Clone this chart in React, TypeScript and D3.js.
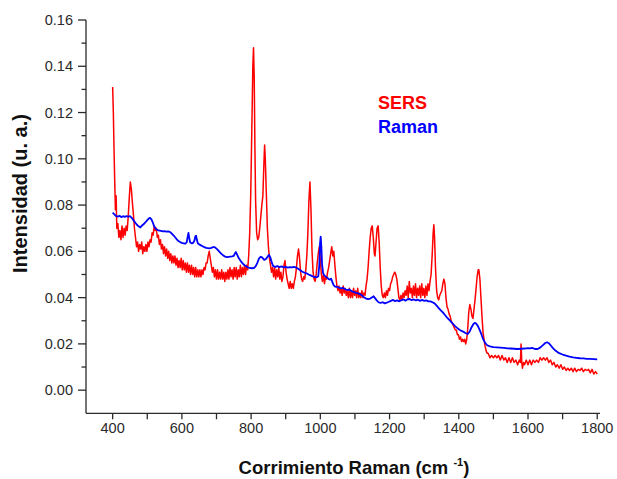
import * as d3 from "d3"

// SERS spectrum (red), [Raman shift cm-1, intensity]
const sers: [number, number][] = [
  [400, 0.131], [402, 0.120], [404, 0.104], [406, 0.090], [408, 0.078], [410, 0.084], [412, 0.070],
  [415, 0.072], [418, 0.066], [421, 0.069], [424, 0.065], [427, 0.071], [430, 0.066], [433, 0.070],
  [436, 0.067], [439, 0.071], [442, 0.069], [445, 0.075], [448, 0.083], [451, 0.090], [454, 0.087],
  [457, 0.081], [460, 0.076], [463, 0.070], [466, 0.066], [469, 0.062], [472, 0.064], [475, 0.060],
  [478, 0.063], [481, 0.061], [484, 0.064], [487, 0.059], [490, 0.062], [493, 0.060], [496, 0.063],
  [499, 0.060], [502, 0.064], [505, 0.062], [508, 0.065], [511, 0.064], [514, 0.068], [517, 0.067],
  [520, 0.071], [523, 0.069], [526, 0.070], [529, 0.066], [532, 0.067], [535, 0.063], [538, 0.065],
  [541, 0.061], [544, 0.063], [547, 0.059], [550, 0.062], [553, 0.058], [556, 0.061], [559, 0.057],
  [562, 0.060], [565, 0.056], [568, 0.059], [571, 0.055], [574, 0.058], [577, 0.055], [580, 0.058],
  [583, 0.054], [586, 0.057], [589, 0.053], [592, 0.056], [595, 0.053], [598, 0.057], [601, 0.052],
  [604, 0.056], [607, 0.052], [610, 0.055], [613, 0.051], [616, 0.055], [619, 0.051], [622, 0.054],
  [625, 0.050], [628, 0.054], [631, 0.050], [634, 0.053], [637, 0.049], [640, 0.053], [643, 0.049],
  [646, 0.052], [649, 0.049], [652, 0.052], [655, 0.049], [658, 0.052], [661, 0.050], [664, 0.053],
  [667, 0.052], [670, 0.055], [673, 0.055], [676, 0.058], [679, 0.060], [682, 0.057], [685, 0.054],
  [688, 0.051], [691, 0.053], [694, 0.049], [697, 0.052], [700, 0.048], [703, 0.052], [706, 0.048],
  [709, 0.051], [712, 0.048], [715, 0.052], [718, 0.048], [721, 0.051], [724, 0.047], [727, 0.051],
  [730, 0.048], [733, 0.052], [736, 0.048], [739, 0.053], [742, 0.049], [745, 0.052], [748, 0.048],
  [751, 0.053], [754, 0.049], [757, 0.053], [760, 0.048], [763, 0.052], [766, 0.049], [769, 0.054],
  [772, 0.049], [775, 0.053], [778, 0.050], [781, 0.054], [784, 0.050], [787, 0.054], [790, 0.052],
  [793, 0.058], [796, 0.068], [799, 0.085], [802, 0.112], [805, 0.140], [807, 0.148], [809, 0.135],
  [811, 0.105], [813, 0.082], [816, 0.068], [819, 0.065], [822, 0.066], [825, 0.070], [828, 0.075],
  [831, 0.080], [834, 0.084], [837, 0.098], [839, 0.106], [841, 0.100], [844, 0.085], [847, 0.070],
  [850, 0.062], [853, 0.057], [856, 0.054], [859, 0.051], [862, 0.053], [865, 0.049], [868, 0.053],
  [871, 0.048], [874, 0.052], [877, 0.049], [880, 0.053], [883, 0.048], [886, 0.051], [889, 0.047],
  [892, 0.049], [895, 0.054], [898, 0.056], [901, 0.051], [904, 0.048], [907, 0.046], [910, 0.044],
  [913, 0.047], [916, 0.044], [919, 0.046], [922, 0.044], [925, 0.047], [928, 0.049], [931, 0.053],
  [934, 0.058], [937, 0.061], [940, 0.057], [943, 0.051], [946, 0.048], [949, 0.047], [952, 0.049],
  [955, 0.048], [958, 0.052], [961, 0.058], [964, 0.068], [967, 0.082], [970, 0.090], [973, 0.078],
  [976, 0.060], [979, 0.051], [982, 0.048], [985, 0.047], [988, 0.050], [991, 0.055], [994, 0.059],
  [997, 0.062], [1000, 0.056], [1003, 0.050], [1006, 0.047], [1009, 0.050], [1012, 0.046], [1015, 0.049],
  [1018, 0.048], [1021, 0.051], [1024, 0.053], [1027, 0.056], [1030, 0.059], [1033, 0.062], [1036, 0.058],
  [1039, 0.060], [1042, 0.054], [1045, 0.049], [1048, 0.045], [1051, 0.043], [1054, 0.045], [1057, 0.042],
  [1060, 0.044], [1063, 0.041], [1066, 0.045], [1069, 0.042], [1072, 0.044], [1075, 0.041], [1078, 0.043],
  [1081, 0.040], [1084, 0.044], [1087, 0.040], [1090, 0.043], [1093, 0.040], [1096, 0.044], [1099, 0.041],
  [1102, 0.043], [1105, 0.040], [1108, 0.044], [1111, 0.040], [1114, 0.042], [1117, 0.040], [1120, 0.043],
  [1123, 0.040], [1126, 0.042], [1129, 0.041], [1132, 0.045], [1135, 0.048], [1138, 0.053], [1141, 0.060],
  [1144, 0.066], [1147, 0.070], [1150, 0.071], [1153, 0.066], [1156, 0.059], [1158, 0.058], [1161, 0.064],
  [1164, 0.070], [1167, 0.071], [1170, 0.064], [1173, 0.053], [1176, 0.045], [1179, 0.041], [1182, 0.040],
  [1185, 0.042], [1188, 0.040], [1191, 0.043], [1194, 0.041], [1197, 0.044], [1200, 0.043], [1203, 0.046],
  [1206, 0.047], [1209, 0.049], [1212, 0.050], [1215, 0.051], [1218, 0.050], [1221, 0.048], [1224, 0.044],
  [1227, 0.040], [1230, 0.039], [1233, 0.041], [1236, 0.039], [1239, 0.042], [1242, 0.040], [1245, 0.043],
  [1248, 0.041], [1251, 0.045], [1254, 0.040], [1257, 0.047], [1260, 0.042], [1263, 0.044], [1266, 0.040],
  [1269, 0.045], [1272, 0.041], [1275, 0.046], [1278, 0.040], [1281, 0.044], [1284, 0.041], [1287, 0.045],
  [1290, 0.040], [1293, 0.046], [1296, 0.041], [1299, 0.044], [1302, 0.040], [1305, 0.045], [1308, 0.041],
  [1311, 0.046], [1314, 0.043], [1317, 0.047], [1320, 0.050], [1323, 0.058], [1326, 0.068], [1328, 0.0715],
  [1330, 0.066], [1333, 0.052], [1336, 0.043], [1339, 0.040], [1342, 0.039], [1345, 0.041], [1348, 0.042],
  [1351, 0.043], [1354, 0.046], [1357, 0.048], [1360, 0.046], [1363, 0.040], [1366, 0.036], [1369, 0.035],
  [1372, 0.033], [1375, 0.032], [1378, 0.030], [1381, 0.029], [1384, 0.028], [1387, 0.027], [1390, 0.026],
  [1393, 0.026], [1396, 0.024], [1399, 0.024], [1402, 0.022], [1405, 0.023], [1408, 0.021], [1411, 0.022],
  [1414, 0.021], [1417, 0.022], [1420, 0.020], [1423, 0.022], [1426, 0.027], [1429, 0.034], [1432, 0.037],
  [1435, 0.035], [1438, 0.032], [1441, 0.031], [1444, 0.035], [1447, 0.039], [1450, 0.044], [1453, 0.049],
  [1456, 0.052], [1458, 0.052], [1461, 0.048], [1464, 0.040], [1467, 0.032], [1470, 0.025], [1473, 0.022],
  [1476, 0.019], [1479, 0.017], [1482, 0.016], [1485, 0.016], [1490, 0.014], [1495, 0.015], [1500, 0.014],
  [1505, 0.015], [1510, 0.014], [1515, 0.015], [1520, 0.013], [1525, 0.015], [1530, 0.013], [1535, 0.014],
  [1540, 0.012], [1545, 0.014], [1550, 0.012], [1555, 0.014], [1560, 0.012], [1565, 0.013], [1570, 0.011],
  [1575, 0.013], [1578, 0.012], [1580, 0.020], [1582, 0.012], [1584, 0.0095], [1587, 0.012], [1590, 0.011],
  [1595, 0.013], [1600, 0.011], [1605, 0.013], [1610, 0.011], [1615, 0.013], [1620, 0.012], [1625, 0.013],
  [1630, 0.012], [1635, 0.014], [1640, 0.013], [1645, 0.014], [1650, 0.013], [1655, 0.014], [1660, 0.012],
  [1665, 0.013], [1670, 0.011], [1675, 0.012], [1680, 0.010], [1685, 0.011], [1690, 0.0095], [1695, 0.011],
  [1700, 0.009], [1705, 0.010], [1710, 0.0085], [1715, 0.0095], [1720, 0.0085], [1725, 0.0095], [1730, 0.008],
  [1735, 0.0095], [1740, 0.008], [1745, 0.009], [1750, 0.0085], [1755, 0.0095], [1760, 0.008], [1765, 0.009],
  [1770, 0.0085], [1775, 0.009], [1780, 0.0075], [1785, 0.009], [1790, 0.007], [1795, 0.008], [1800, 0.007],
]

// normal Raman spectrum (blue)
const raman: [number, number][] = [
  [400, 0.0767], [405, 0.0760], [410, 0.0752], [415, 0.0750], [420, 0.0754], [425, 0.0748], [430, 0.0752],
  [435, 0.0749], [440, 0.0752], [445, 0.0750], [450, 0.0752], [455, 0.0745], [460, 0.0735], [465, 0.0725],
  [470, 0.0715], [475, 0.0708], [480, 0.0703], [485, 0.0712], [490, 0.0718], [495, 0.0726], [500, 0.0735],
  [505, 0.0743], [508, 0.0745], [512, 0.0738], [516, 0.0725], [520, 0.0708], [525, 0.0697], [530, 0.0692],
  [535, 0.0690], [540, 0.0688], [545, 0.0686], [550, 0.0687], [555, 0.0685], [560, 0.0686], [565, 0.0684],
  [570, 0.0678], [575, 0.0670], [580, 0.0662], [585, 0.0652], [590, 0.0645], [595, 0.0640], [600, 0.0637],
  [605, 0.0635], [610, 0.0633], [614, 0.0640], [617, 0.0665], [619, 0.0680], [621, 0.0660], [624, 0.0638],
  [628, 0.0635], [632, 0.0636], [636, 0.0645], [639, 0.0665], [641, 0.0668], [643, 0.0652], [646, 0.0635],
  [650, 0.0630], [655, 0.0626], [660, 0.0622], [665, 0.0618], [670, 0.0615], [675, 0.0614], [680, 0.0613],
  [685, 0.0615], [690, 0.0618], [695, 0.0618], [700, 0.0612], [705, 0.0604], [710, 0.0596], [715, 0.0588],
  [720, 0.0582], [725, 0.0577], [730, 0.0575], [735, 0.0576], [740, 0.0577], [745, 0.0578], [750, 0.0580],
  [753, 0.0590], [756, 0.0597], [759, 0.0588], [763, 0.0574], [768, 0.0563], [773, 0.0552], [778, 0.0544],
  [783, 0.0538], [788, 0.0533], [793, 0.0530], [798, 0.0528], [803, 0.0527], [808, 0.0528], [813, 0.0535],
  [818, 0.0550], [823, 0.0570], [828, 0.0577], [833, 0.0572], [838, 0.0563], [843, 0.0567], [848, 0.0578],
  [852, 0.0585], [856, 0.0572], [860, 0.0550], [864, 0.0536], [870, 0.0533], [876, 0.0536], [882, 0.0532],
  [888, 0.0535], [894, 0.0531], [900, 0.0533], [906, 0.0530], [912, 0.0532], [918, 0.0531], [924, 0.0533],
  [930, 0.0530], [936, 0.0525], [942, 0.0518], [948, 0.0512], [954, 0.0508], [960, 0.0505], [966, 0.0500],
  [972, 0.0496], [978, 0.0492], [984, 0.0489], [990, 0.0488], [994, 0.0492], [997, 0.0540], [999, 0.0630],
  [1001, 0.0664], [1003, 0.0620], [1005, 0.0545], [1008, 0.0505], [1012, 0.0495], [1016, 0.0490], [1020, 0.0486],
  [1024, 0.0480], [1028, 0.0478], [1031, 0.0482], [1034, 0.0470], [1038, 0.0455], [1042, 0.0448], [1048, 0.0447],
  [1054, 0.0443], [1060, 0.0440], [1066, 0.0442], [1072, 0.0436], [1078, 0.0433], [1084, 0.0435], [1090, 0.0428],
  [1096, 0.0425], [1102, 0.0421], [1108, 0.0419], [1114, 0.0415], [1120, 0.0410], [1126, 0.0402], [1132, 0.0396],
  [1138, 0.0394], [1144, 0.0396], [1150, 0.0402], [1154, 0.0406], [1158, 0.0398], [1163, 0.0388], [1168, 0.0380],
  [1174, 0.0377], [1180, 0.0380], [1186, 0.0375], [1192, 0.0378], [1198, 0.0382], [1204, 0.0386], [1210, 0.0390],
  [1216, 0.0385], [1222, 0.0388], [1228, 0.0384], [1234, 0.0389], [1240, 0.0392], [1246, 0.0387], [1252, 0.0393],
  [1258, 0.0394], [1264, 0.0389], [1270, 0.0392], [1276, 0.0388], [1282, 0.0391], [1288, 0.0386], [1294, 0.0390],
  [1300, 0.0386], [1306, 0.0388], [1312, 0.0384], [1318, 0.0384], [1324, 0.0380], [1330, 0.0375], [1336, 0.0365],
  [1342, 0.0355], [1348, 0.0345], [1354, 0.0336], [1360, 0.0325], [1366, 0.0314], [1372, 0.0305], [1378, 0.0295],
  [1384, 0.0285], [1390, 0.0276], [1396, 0.0268], [1402, 0.0261], [1408, 0.0256], [1414, 0.0252], [1420, 0.0246],
  [1426, 0.0243], [1432, 0.0255], [1437, 0.0272], [1442, 0.0285], [1446, 0.0291], [1450, 0.0288], [1455, 0.0278],
  [1460, 0.0262], [1465, 0.0243], [1470, 0.0222], [1476, 0.0205], [1482, 0.0194], [1490, 0.0189], [1500, 0.0186],
  [1510, 0.0185], [1520, 0.0184], [1530, 0.0183], [1540, 0.0181], [1550, 0.0180], [1560, 0.0179], [1570, 0.0178],
  [1580, 0.0179], [1590, 0.0180], [1600, 0.0182], [1606, 0.0181], [1612, 0.0183], [1620, 0.0178], [1628, 0.0178],
  [1636, 0.0185], [1644, 0.0196], [1650, 0.0204], [1655, 0.0207], [1660, 0.0203], [1666, 0.0193], [1672, 0.0182],
  [1680, 0.0170], [1690, 0.0160], [1700, 0.0154], [1710, 0.0149], [1720, 0.0145], [1730, 0.0142], [1740, 0.0140],
  [1750, 0.0138], [1760, 0.0137], [1770, 0.0135], [1780, 0.0135], [1790, 0.0134], [1800, 0.0133],
]

const xTicks = [400, 600, 800, 1000, 1200, 1400, 1600, 1800]
const xMinor = [500, 700, 900, 1100, 1300, 1500, 1700]
const yTicks = [0, 0.02, 0.04, 0.06, 0.08, 0.1, 0.12, 0.14, 0.16]
const yMinor = [0.01, 0.03, 0.05, 0.07, 0.09, 0.11, 0.13, 0.15]

const legend = [
  { name: "SERS", color: "#ff0000" },
  { name: "Raman", color: "#0000ff" },
]

const font = "'Liberation Sans', Arial, sans-serif"
const axisColor = "#2a2a2a"

export default function App() {
  const x = d3.scaleLinear().domain([323, 1808]).range([86, 600])
  const y = d3.scaleLinear().domain([-0.01, 0.16]).range([413.3, 20])
  const line = d3.line<[number, number]>().x((d) => x(d[0])).y((d) => y(d[1]))
  const [x0, x1] = x.range()
  const [yb] = y.range()

  return (
    <svg width={617} height={479} style={{ position: "absolute", left: 0, top: 0, background: "#fff" }} fontFamily={font}>
      <path d={line(sers) ?? ""} fill="none" stroke="#ff0000" strokeWidth={1.5} strokeLinejoin="round" />
      <path d={line(raman) ?? ""} fill="none" stroke="#0000ff" strokeWidth={1.8} strokeLinejoin="round" />

      {/* axes */}
      <g stroke={axisColor} strokeWidth={1.3}>
        <line x1={x0} x2={x0} y1={yb} y2={y(0.16)} />
        <line x1={x0} x2={x1} y1={yb} y2={yb} />
        {yTicks.map((t) => <line key={t} x1={x0 - 8} x2={x0} y1={y(t)} y2={y(t)} />)}
        {yMinor.map((t) => <line key={t} x1={x0 - 4.5} x2={x0} y1={y(t)} y2={y(t)} />)}
        {xTicks.map((t) => <line key={t} x1={x(t)} x2={x(t)} y1={yb} y2={yb + 6} />)}
        {xMinor.map((t) => <line key={t} x1={x(t)} x2={x(t)} y1={yb} y2={yb + 6} />)}
      </g>
      <g fontSize={14.5} fill={axisColor}>
        {yTicks.map((t) => (
          <text key={t} x={x0 - 13} y={y(t)} dy="0.35em" textAnchor="end">{d3.format(".2f")(t)}</text>
        ))}
        {xTicks.map((t) => (
          <text key={t} x={x(t)} y={yb + 20} textAnchor="middle">{t}</text>
        ))}
      </g>

      <text x={354} y={474} textAnchor="middle" fontSize={18.5} fontWeight="bold" fill="#111">
        Corrimiento Raman (cm <tspan fontSize={11} dy={-8}>-1</tspan><tspan dy={8}>)</tspan>
      </text>
      <text transform={`translate(27, ${y(0.085)}) rotate(-90)`} textAnchor="middle" fontSize={20} fontWeight="bold" fill="#111">
        Intensidad (u. a.)
      </text>

      {legend.map((l, i) => (
        <text key={l.name} x={378} y={108.5 + i * 24.5} fontSize={18} fontWeight="bold" fill={l.color}>{l.name}</text>
      ))}
    </svg>
  )
}
